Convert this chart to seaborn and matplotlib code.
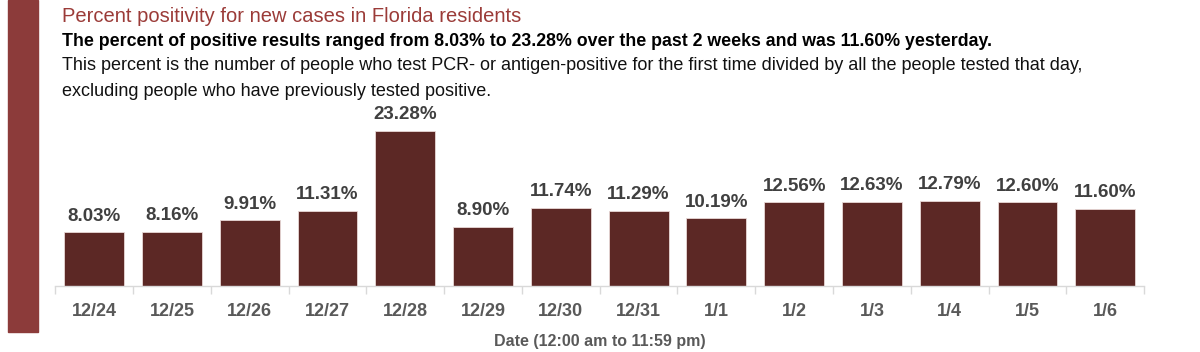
import matplotlib.pyplot as plt
import matplotlib.patches as mpatches
import numpy as np
import pandas as pd
import seaborn as sns

dates = ["12/24", "12/25", "12/26", "12/27", "12/28", "12/29", "12/30",
         "12/31", "1/1", "1/2", "1/3", "1/4", "1/5", "1/6"]
positivity = [8.03, 8.16, 9.91, 11.31, 23.28, 8.90, 11.74,
              11.29, 10.19, 12.56, 12.63, 12.79, 12.60, 11.60]

sns.set_theme(style="white")
plt.rcParams["font.family"] = ["Liberation Sans Narrow", "Liberation Sans", "DejaVu Sans"]

df = pd.DataFrame({"date": dates, "pct": positivity})

fig = plt.figure(figsize=(12, 3.52), dpi=100)
ax = fig.add_axes([0.046, 0.1875, 0.9075, 0.5])

sns.barplot(data=df, x="date", y="pct", color="#5c2825", saturation=1,
            width=0.77, edgecolor="#e8d8d6", linewidth=0.6, ax=ax)

for i, v in enumerate(positivity):
    ax.text(i, v + 1.1, f"{v:.2f}%", ha="center", va="bottom",
            fontsize=13.5, fontweight="bold", color="#404040")

ax.set_ylim(0, 26.4)
ax.set_xlim(-0.5, len(dates) - 0.5)
ax.set_yticks([])
ax.set_ylabel("")
ax.set_xlabel("Date (12:00 am to 11:59 pm)", fontsize=11.5, fontweight="bold",
              color="#595959", labelpad=10)
ax.tick_params(axis="x", which="major", length=0, pad=12, labelsize=13,
               labelcolor="#595959")
ax.set_xticks(np.arange(-0.5, len(dates), 1), minor=True)
ax.tick_params(axis="x", which="minor", bottom=True, length=6, width=1,
               color="#d9d9d9")
for lbl in ax.get_xticklabels():
    lbl.set_fontweight("bold")

for s in ["top", "right", "left"]:
    ax.spines[s].set_visible(False)
ax.spines["bottom"].set_color("#d9d9d9")
ax.spines["bottom"].set_linewidth(1)

# red band on the left
fig.patches.append(mpatches.Rectangle((8 / 1200, 20 / 352), 30 / 1200, 332 / 352,
                                      transform=fig.transFigure, color="#8c3b3a",
                                      zorder=0))

fig.text(62 / 1200, 1 - 16 / 352, "Percent positivity for new cases in Florida residents",
         fontsize=14.5, color="#9b3b38", va="center", ha="left")
fig.text(62 / 1200, 1 - 42 / 352,
         "The percent of positive results ranged from 8.03% to 23.28% over the past 2 weeks and was 11.60% yesterday.",
         fontsize=12.75, fontweight="bold", color="#000000", va="center", ha="left")
fig.text(62 / 1200, 1 - 66 / 352,
         "This percent is the number of people who test PCR- or antigen-positive for the first time divided by all the people tested that day,",
         fontsize=13, color="#111111", va="center", ha="left")
fig.text(62 / 1200, 1 - 91 / 352,
         "excluding people who have previously tested positive.",
         fontsize=13, color="#111111", va="center", ha="left")

fig.savefig("out.png", dpi=100)
